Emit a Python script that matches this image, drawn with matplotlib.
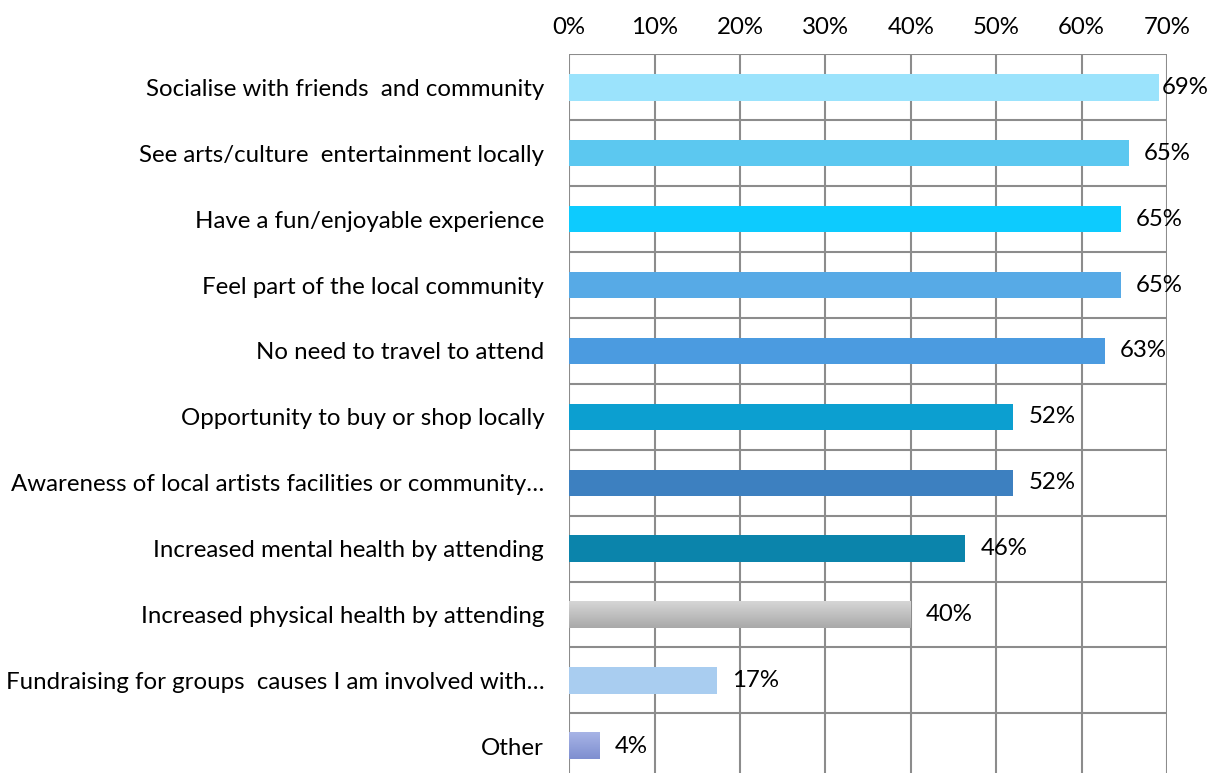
import matplotlib
matplotlib.use("Agg")
import matplotlib.pyplot as plt
import numpy as np
from matplotlib.colors import to_rgb

categories = [
    "Socialise with friends  and community",
    "See arts/culture  entertainment locally",
    "Have a fun/enjoyable experience",
    "Feel part of the local community",
    "No need to travel to attend",
    "Opportunity to buy or shop locally",
    "Awareness of local artists facilities or community\u2026",
    "Increased mental health by attending",
    "Increased physical health by attending",
    "Fundraising for groups  causes I am involved with\u2026",
    "Other",
]
values = [69.1, 65.5, 64.6, 64.6, 62.7, 52.0, 52.0, 46.4, 40.0, 17.3, 3.6]
value_labels = ["69%", "65%", "65%", "65%", "63%", "52%", "52%", "46%", "40%", "17%", "4%"]
xticks = [0, 10, 20, 30, 40, 50, 60, 70]
xtick_labels = ["0%", "10%", "20%", "30%", "40%", "50%", "60%", "70%"]

# (top colour, bottom colour) for each bar
bar_colors = [
    ("#9BE3FC", "#9BE3FC"),
    ("#5CC8F0", "#5CC8F0"),
    ("#0DCBFE", "#0DCBFE"),
    ("#57AAE6", "#57AAE6"),
    ("#4B9BE0", "#4B9BE0"),
    ("#0C9FD0", "#0C9FD0"),
    ("#3D80C0", "#3D80C0"),
    ("#0B84AB", "#0B84AB"),
    ("#D6D6D6", "#A9A9A9"),
    ("#A9CDF0", "#A9CDF0"),
    ("#A7B4E6", "#7F8FD0"),
]

plt.rcParams['font.family'] = ['Lato', 'DejaVu Sans']
FS = 17.3

fig = plt.figure(figsize=(12.24, 7.73), dpi=100)
ax = fig.add_axes([0.465, -0.008, 0.4885, 0.9375])

n = len(categories)
y = np.arange(n)
h = 0.4
for i, (v, (c1, c2)) in enumerate(zip(values, bar_colors)):
    if c1 == c2:
        ax.barh(i, v, height=h, color=c1, zorder=3)
    else:
        a = np.array(to_rgb(c1)); b = np.array(to_rgb(c2))
        t = np.linspace(0, 1, 50)[:, None, None]
        grad = a * (1 - t) + b * t
        ax.imshow(grad, extent=[0, v, i + h / 2, i - h / 2], aspect='auto',
                  zorder=3, interpolation='bicubic')

ax.set_xlim(0, 70)
ax.set_ylim(n - 0.5, -0.5)
ax.set_xticks(xticks)
ax.set_xticklabels(xtick_labels, fontsize=FS)
ax.xaxis.tick_top()
ax.tick_params(axis='x', length=0, pad=12)
ax.set_yticks(y)
ax.set_yticklabels(categories, fontsize=FS)
ax.tick_params(axis='y', length=0, pad=18)

for xv in xticks:
    ax.axvline(xv, color='#8C8C8C', lw=1.5, zorder=1)
for yb in np.arange(-0.5, n, 1.0):
    ax.axhline(yb, color='#8C8C8C', lw=1.5, zorder=1)
for s in ax.spines.values():
    s.set_visible(False)

for i, (v, lab) in enumerate(zip(values, value_labels)):
    xpos = min(v + 1.75, 69.4)
    ax.text(xpos, i, lab, va='center', ha='left', fontsize=FS, zorder=4, clip_on=False)

fig.savefig("out.png", dpi=100, facecolor='white')
